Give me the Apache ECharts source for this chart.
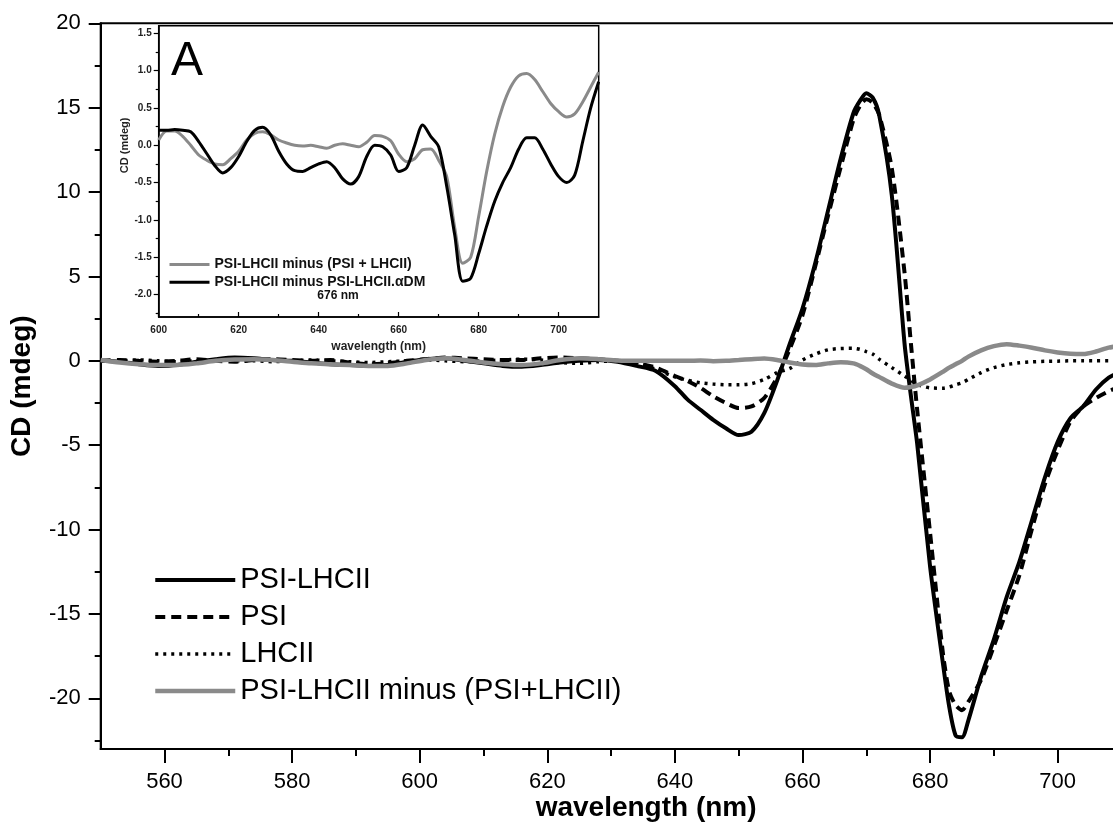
<!DOCTYPE html>
<html><head><meta charset="utf-8">
<script src="https://cdn.jsdelivr.net/npm/echarts@6/dist/echarts.min.js"></script>
<style>html,body{margin:0;padding:0;background:#fff}#c{width:1113px;height:825px}</style>
</head><body><div id="c"></div>
<script>
// ---------- main panel data ----------
const mainWl = [550,553,556,559,562,565,568,571,574,577,580,583,586,589,592,595,598,601,604,607,610,613,616,619,622,625,628,631,634,637,640,642,644,646,648,650,652,654,656,658,660,662,664,666,668,669,670,671,672,674,676,677,678,680,682,683,684,685,686,688,690,692,694,696,698,700,702,704,706,708,710];
const psiLhcii = [0.0,-0.05,-0.2,-0.3,-0.25,-0.05,0.1,0.2,0.15,0.05,0.0,-0.1,-0.2,-0.25,-0.3,-0.25,-0.05,0.1,0.15,0.0,-0.15,-0.3,-0.35,-0.25,-0.1,0.0,0.05,-0.05,-0.3,-0.6,-1.5,-2.3,-2.9,-3.5,-4.0,-4.4,-4.2,-3.1,-1.2,1.0,3.1,5.8,8.9,12.0,14.7,15.4,15.85,15.6,14.6,9.8,1.0,-2.1,-5.0,-12.2,-17.9,-20.5,-22.2,-22.3,-21.3,-18.7,-16.5,-14.0,-11.9,-9.4,-6.9,-4.8,-3.4,-2.7,-1.7,-1.0,-0.6];
const psi = [0.0,0.05,0.0,-0.05,0.0,0.1,0.0,-0.05,0.05,0.1,0.05,0.0,0.05,-0.1,-0.2,-0.15,0.0,0.1,0.2,0.15,0.1,0.05,0.05,0.15,0.2,0.15,0.1,0.0,-0.15,-0.4,-0.9,-1.2,-1.6,-2.1,-2.5,-2.8,-2.7,-2.2,-1.0,0.7,2.7,5.6,8.6,11.5,14.3,15.1,15.5,15.3,14.6,11.4,5.2,1.0,-3.0,-10.2,-17.3,-19.6,-20.4,-20.7,-20.2,-18.9,-16.9,-14.8,-12.7,-9.9,-7.3,-5.3,-3.6,-2.7,-2.2,-1.8,-1.5];
const lhcii = [0.0,0.0,0.05,0.0,-0.05,0.0,0.05,0.0,0.0,-0.05,0.0,0.05,0.0,-0.05,-0.1,-0.05,0.0,0.05,0.0,-0.05,0.0,0.05,0.1,0.05,-0.1,-0.15,-0.05,0.0,-0.1,-0.5,-0.95,-1.15,-1.3,-1.38,-1.42,-1.42,-1.35,-1.1,-0.7,-0.45,0.05,0.4,0.65,0.73,0.74,0.68,0.55,0.4,0.1,-0.4,-0.9,-1.15,-1.4,-1.6,-1.62,-1.55,-1.42,-1.3,-1.1,-0.7,-0.4,-0.22,-0.12,-0.06,-0.03,-0.02,0.0,0.0,0.0,0.0,0.0];
const diffMain = [0.05,-0.1,-0.2,-0.25,-0.25,-0.15,0.0,0.08,0.1,0.05,-0.05,-0.15,-0.2,-0.25,-0.3,-0.3,-0.15,0.05,0.15,0.05,-0.1,-0.2,-0.25,-0.15,0.05,0.15,0.1,0.02,0.0,0.0,0.0,0.0,0.02,-0.02,0.0,0.05,0.1,0.14,0.05,-0.1,-0.22,-0.25,-0.15,-0.08,-0.15,-0.3,-0.5,-0.75,-0.95,-1.35,-1.6,-1.55,-1.45,-1.1,-0.65,-0.4,-0.2,0.0,0.25,0.62,0.87,0.99,0.9,0.78,0.62,0.5,0.42,0.4,0.55,0.78,0.9];
const mainXLabels = [560,580,600,620,640,660,680,700];
const mainXMinor = [570,590,610,630,650,670,690];
const mainYLabels = [-20,-15,-10,-5,0,5,10,15,20];
const mainYMinor = [-22.5,-17.5,-12.5,-7.5,-2.5,2.5,7.5,12.5,17.5];
const mainNames = ['PSI-LHCII','PSI','LHCII','PSI-LHCII minus (PSI+LHCII)'];

// ---------- inset data ----------
const insetWl = [600,602,604,606,608,610,612,614,616,618,620,622,624,626,628,630,632,634,636,638,640,642,644,646,648,650,652,654,656,658,660,662,664,666,668,670,672,674,676,678,680,682,684,686,688,690,692,694,696,698,700,702,704,706,708,710];
const insetDiff = [0.07,0.19,0.19,0.12,0.0,-0.13,-0.2,-0.25,-0.26,-0.18,-0.08,0.07,0.16,0.18,0.14,0.07,0.03,0.0,-0.01,0.0,-0.02,-0.04,0.0,0.02,0.0,-0.02,0.04,0.13,0.12,0.06,-0.12,-0.22,-0.18,-0.06,-0.05,-0.2,-0.42,-1.1,-1.58,-1.5,-0.95,-0.35,0.15,0.52,0.78,0.93,0.96,0.88,0.72,0.56,0.45,0.38,0.42,0.58,0.78,0.98];
const insetDiffDM = [0.2,0.2,0.21,0.2,0.18,0.05,-0.11,-0.27,-0.37,-0.3,-0.15,0.05,0.2,0.24,0.14,-0.08,-0.25,-0.34,-0.35,-0.3,-0.25,-0.22,-0.3,-0.45,-0.52,-0.42,-0.15,0.0,-0.02,-0.13,-0.35,-0.3,0.0,0.27,0.12,-0.02,-0.55,-1.2,-1.82,-1.78,-1.45,-1.08,-0.75,-0.5,-0.3,-0.05,0.1,0.1,-0.05,-0.25,-0.42,-0.5,-0.4,0.05,0.5,0.85];
const insetXLabels = [600,620,640,660,680,700];
const insetXMinor = [610,630,650,670,690];
const insetYLabels = [-2.0,-1.5,-1.0,-0.5,0.0,0.5,1.0,1.5];
const insetYMinor = [-2.25,-1.75,-1.25,-0.75,-0.25,0.25,0.75,1.25];
const insetNames = ['PSI-LHCII minus (PSI + LHCII)','PSI-LHCII minus PSI-LHCII.\u03b1DM'];

const FONT = "'Liberation Sans', Arial, sans-serif";
const pair = (xs, ys) => xs.map((x, i) => [x, ys[i]]);
const HIDE = 'rgba(0,0,0,0)';

const mainRect = {left: 100.7, top: 23.3, width: 1020.8, height: 725.7, containLabel: false, outerBoundsMode: 'none'};
const insetRect = {left: 158.7, top: 25.8, width: 440, height: 291.2, containLabel: false, outerBoundsMode: 'none'};

const mainStyles = [
  {color: '#000', width: 4, type: 'solid'},
  {color: '#000', width: 4, type: [10, 6]},
  {color: '#000', width: 3.5, type: [3, 5]},
  {color: '#8a8a8a', width: 4.5, type: 'solid'}
];
const insetStyles = [
  {color: '#8a8a8a', width: 3, type: 'solid'},
  {color: '#000', width: 3, type: 'solid'}
];

const chart = echarts.init(document.getElementById('c'), null, {renderer: 'canvas'});
chart.setOption({
  animation: false,
  backgroundColor: '#fff',
  textStyle: {fontFamily: FONT},
  grid: [
    Object.assign({show: true, borderColor: '#000', borderWidth: 2, backgroundColor: 'transparent'}, mainRect),
    Object.assign({show: false}, mainRect),
    Object.assign({show: true, borderColor: '#000', borderWidth: 1.5, backgroundColor: '#fff', z: 5}, insetRect),
    Object.assign({show: false, z: 5}, insetRect)
  ],
  xAxis: [
    {gridIndex: 0, type: 'value', min: 550, max: 710, position: 'bottom',
     axisLine: {show: true, onZero: false, lineStyle: {color: '#000', width: 2}},
     axisTick: {show: true, customValues: mainXLabels, length: 14, lineStyle: {color: '#000', width: 2}},
     axisLabel: {customValues: mainXLabels, fontSize: 22, color: '#000', margin: 22, fontFamily: FONT},
     splitLine: {show: false},
     name: 'wavelength (nm)', nameLocation: 'middle', nameGap: 45, nameMoveOverlap: false,
     nameTextStyle: {fontSize: 28, fontWeight: 'bold', color: '#000', fontFamily: FONT, padding: [0, 0, 0, 70]}},
    {gridIndex: 1, type: 'value', min: 550, max: 710, position: 'bottom',
     axisLine: {show: false, onZero: false},
     axisTick: {show: true, customValues: mainXMinor, length: 7, lineStyle: {color: '#000', width: 2}},
     axisLabel: {show: false}, splitLine: {show: false}},
    {gridIndex: 2, type: 'value', min: 600, max: 710, position: 'bottom', z: 6,
     axisLine: {show: true, onZero: false, lineStyle: {color: '#000', width: 1.5}},
     axisTick: {show: true, inside: true, customValues: insetXLabels, length: 5, lineStyle: {color: '#000', width: 1.2}},
     axisLabel: {customValues: insetXLabels, fontSize: 10, fontWeight: 'bold', color: '#222', margin: 8, fontFamily: FONT},
     splitLine: {show: false},
     name: 'wavelength (nm)', nameLocation: 'middle', nameGap: 24,
     nameTextStyle: {fontSize: 12, fontWeight: 'bold', color: '#222', fontFamily: FONT}},
    {gridIndex: 3, type: 'value', min: 600, max: 710, position: 'bottom', z: 6,
     axisLine: {show: false, onZero: false},
     axisTick: {show: true, inside: true, customValues: insetXMinor, length: 3, lineStyle: {color: '#000', width: 1.2}},
     axisLabel: {show: false}, splitLine: {show: false}}
  ],
  yAxis: [
    {gridIndex: 0, type: 'value', min: -23, max: 20, position: 'left',
     axisLine: {show: true, onZero: false, lineStyle: {color: '#000', width: 2}},
     axisTick: {show: true, customValues: mainYLabels, length: 12, lineStyle: {color: '#000', width: 2}},
     axisLabel: {customValues: mainYLabels, fontSize: 22, color: '#000', margin: 20, fontFamily: FONT},
     splitLine: {show: false},
     name: 'CD (mdeg)', nameLocation: 'middle', nameGap: 64,
     nameTextStyle: {fontSize: 28, fontWeight: 'bold', color: '#000', fontFamily: FONT}},
    {gridIndex: 1, type: 'value', min: -23, max: 20, position: 'left',
     axisLine: {show: false, onZero: false},
     axisTick: {show: true, customValues: mainYMinor, length: 6, lineStyle: {color: '#000', width: 2}},
     axisLabel: {show: false}, splitLine: {show: false}},
    {gridIndex: 2, type: 'value', min: -2.3, max: 1.6, position: 'left', z: 6,
     axisLine: {show: true, onZero: false, lineStyle: {color: '#000', width: 1.5}},
     axisTick: {show: true, customValues: insetYLabels, length: 5, lineStyle: {color: '#000', width: 1.2}},
     axisLabel: {customValues: insetYLabels, fontSize: 10, fontWeight: 'bold', color: '#222', margin: 7,
                 fontFamily: FONT, formatter: v => v.toFixed(1)},
     splitLine: {show: false},
     name: 'CD (mdeg)', nameLocation: 'middle', nameGap: 16,
     nameTextStyle: {fontSize: 11, fontWeight: 'bold', color: '#222', fontFamily: FONT, padding: [0, 0, 0, 52]}},
    {gridIndex: 3, type: 'value', min: -2.3, max: 1.6, position: 'left', z: 6,
     axisLine: {show: false, onZero: false},
     axisTick: {show: true, customValues: insetYMinor, length: 3, lineStyle: {color: '#000', width: 1.2}},
     axisLabel: {show: false}, splitLine: {show: false}}
  ],
  legend: [
    {data: mainNames.map((n, i) => ({name: n, lineStyle: mainStyles[i]})),
     orient: 'vertical', left: 153, top: 565, padding: 0, itemWidth: 80, itemHeight: 14, itemGap: 7,
     selectedMode: false, itemStyle: {color: HIDE, borderColor: HIDE, borderWidth: 0},
     textStyle: {fontSize: 29, lineHeight: 30, color: '#000', fontFamily: FONT}},
    {data: insetNames.map((n, i) => ({name: n, lineStyle: insetStyles[i]})),
     orient: 'vertical', left: 168, top: 257, padding: 0, itemWidth: 40, itemHeight: 8, itemGap: 2.8, z: 8,
     selectedMode: false, itemStyle: {color: HIDE, borderColor: HIDE, borderWidth: 0},
     textStyle: {fontSize: 14, fontWeight: 'bold', lineHeight: 15, color: '#111', fontFamily: FONT}}
  ],
  graphic: [
    {type: 'text', left: 171, top: 38, z: 20, style: {text: 'A', font: '48px ' + FONT, fill: '#000'}},
    {type: 'text', x: 338, y: 296, z: 20, style: {text: '676 nm', font: 'bold 12px ' + FONT, fill: '#111', align: 'center', verticalAlign: 'middle'}}
  ],
  series: [
    {name: mainNames[0], type: 'line', xAxisIndex: 0, yAxisIndex: 0, data: pair(mainWl, psiLhcii), symbol: 'none', smooth: 0.25,
     lineStyle: mainStyles[0], itemStyle: {color: HIDE}},
    {name: mainNames[1], type: 'line', xAxisIndex: 0, yAxisIndex: 0, data: pair(mainWl, psi), symbol: 'none', smooth: 0.25,
     lineStyle: mainStyles[1], itemStyle: {color: HIDE}},
    {name: mainNames[2], type: 'line', xAxisIndex: 0, yAxisIndex: 0, data: pair(mainWl, lhcii), symbol: 'none', smooth: 0.25,
     lineStyle: mainStyles[2], itemStyle: {color: HIDE}},
    {name: mainNames[3], type: 'line', xAxisIndex: 0, yAxisIndex: 0, data: pair(mainWl, diffMain), symbol: 'none', smooth: 0.25,
     lineStyle: mainStyles[3], itemStyle: {color: HIDE}},
    {name: insetNames[0], type: 'line', xAxisIndex: 2, yAxisIndex: 2, data: pair(insetWl, insetDiff), symbol: 'none', smooth: 0.3, z: 7,
     lineStyle: insetStyles[0], itemStyle: {color: HIDE}},
    {name: insetNames[1], type: 'line', xAxisIndex: 2, yAxisIndex: 2, data: pair(insetWl, insetDiffDM), symbol: 'none', smooth: 0.3, z: 7,
     lineStyle: insetStyles[1], itemStyle: {color: HIDE}}
  ]
});
</script></body></html>
